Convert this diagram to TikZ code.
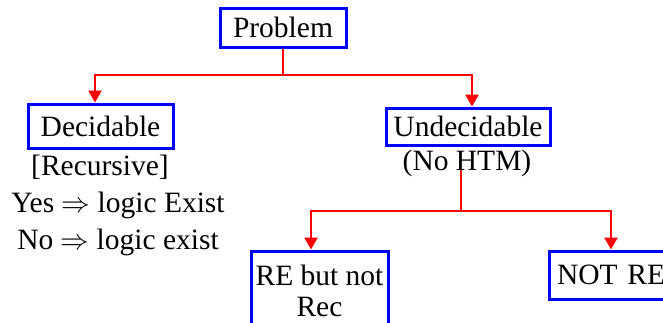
\documentclass[tikz,border=0pt]{standalone}
\usepackage{fontspec}
\setmainfont{Liberation Serif}
\usetikzlibrary{arrows.meta}
\definecolor{boxblue}{RGB}{0,0,255}
\definecolor{linkred}{RGB}{255,0,0}
\newcommand{\implarrow}{\scalebox{1.15}{$\Rightarrow$}}
\begin{document}
\begin{tikzpicture}[x=1pt,y=-1pt,
  every node/.style={font=\fontsize{29.5}{30.5}\selectfont},
  box/.style={draw=boxblue,line width=3pt,inner sep=0pt,align=center},
  link/.style={draw=linkred,line width=2.6pt},
  arr/.style={link,-{Triangle[width=13pt,length=12pt]}}]
\useasboundingbox (0,0) rectangle (663,322);
% tree nodes
\node[box,minimum width=126pt,minimum height=39pt] (prob) at (283,27.5) {Problem};
\node[box,minimum width=145pt,minimum height=44pt] (dec) at (100.5,126) {Decidable};
\node[box,minimum width=164pt,minimum height=37pt] (und) at (468,126.5) {Undecidable};
\node[box,minimum width=137pt,minimum height=80pt] (rer) at (319.5,291) {RE but not\\Rec};
\node[box,minimum width=135pt,minimum height=48pt,text width=135pt,align=left] (notre) at (616.5,275) {\hspace*{8pt}NOT RE};
% annotations
\node (nohtm) at (467,163) {(No HTM)};
\node (recur) at (100,167) {[Recursive]};
\node (yes) at (118,205) {Yes \implarrow{} logic Exist};
\node (no) at (118,242) {No \implarrow{} logic exist};
% connectors from Problem
\coordinate (j1) at (283,75);
\coordinate (j1l) at (95,75);
\coordinate (j1r) at (472,75);
\draw[link] (prob.south) -- (j1);
\draw[arr] (j1) -- (j1l) -- (j1l |- dec.north);
\draw[arr] (j1) -- (j1r) -- (j1r |- und.north);
% connectors from Undecidable
\coordinate (j2t) at (461,170);
\coordinate (j2) at (461,211);
\coordinate (j2l) at (311,211);
\coordinate (j2r) at (611,211);
\draw[link] (j2t) -- (j2);
\draw[arr] (j2) -- (j2l) -- (j2l |- rer.north);
\draw[arr] (j2) -- (j2r) -- (j2r |- notre.north);
\end{tikzpicture}
\end{document}
